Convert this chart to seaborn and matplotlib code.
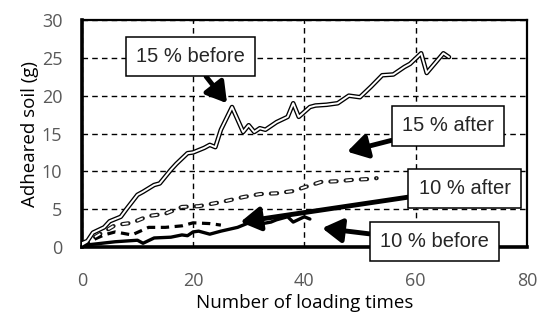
import matplotlib
matplotlib.use("Agg")
import matplotlib.pyplot as plt
import seaborn as sns

# data
x_15_before = [0, 1, 2, 4, 5, 7, 8, 10, 11, 13, 14, 16, 17, 19, 20, 22, 23, 24, 25, 27, 29, 30, 31, 32, 33,
               35, 37, 38, 39, 41, 42, 44, 46, 48, 50, 52, 54, 56, 58, 59, 61, 62, 65, 66]
y_15_before = [0.5, 0.8, 1.9, 2.6, 3.4, 4.0, 5.0, 6.9, 7.3, 8.2, 8.4, 10.2, 11.0, 12.4, 12.5, 13.1, 13.5, 13.2,
               15.5, 18.5, 15.2, 16.1, 15.2, 15.7, 15.5, 16.5, 17.2, 19.0, 17.2, 18.5, 18.7, 18.8, 19.0, 20.0,
               19.8, 21.2, 22.7, 22.8, 23.8, 24.2, 25.6, 23.0, 25.6, 25.1]

x_15_after = [0, 3, 6, 9, 12, 15, 18, 21, 24, 26, 29, 32, 35, 38, 40, 43, 46, 49, 52, 53]
y_15_after = [0.3, 1.6, 2.9, 3.2, 4.1, 4.4, 5.3, 5.4, 5.8, 6.1, 6.6, 7.0, 7.1, 7.4, 7.9, 8.6, 8.7, 8.9, 9.0, 9.1]

x_10_after = [0, 4, 6, 9, 12, 15, 18, 20, 23, 25]
y_10_after = [0.3, 1.6, 2.0, 1.6, 2.6, 2.6, 2.8, 3.2, 3.1, 2.9]

x_10_before = [0, 6, 10, 11, 13, 16, 18, 19, 20, 21, 23, 25, 28, 30, 31, 34, 35, 37, 38, 40, 41]
y_10_before = [0.2, 0.7, 0.9, 0.5, 1.2, 1.3, 1.6, 1.5, 2.0, 2.1, 1.7, 2.1, 2.6, 3.2, 2.9, 3.3, 3.6, 4.0,
               3.3, 4.0, 3.7]

labels = ["15 % before", "15 % after", "10 % after", "10 % before"]
label_pos = [(19.5, 25.2), (65.8, 16.0), (68.8, 7.7), (63.4, 0.7)]
arrow_tips = [(26.1, 19.0), (47.7, 12.6), (28.5, 3.3), (43.2, 2.5)]

sns.set_style("white")
plt.rcParams['font.family'] = ['Open Sans', 'DejaVu Sans']
plt.rcParams['lines.scale_dashes'] = False

fig, ax = plt.subplots(figsize=(5.42, 3.2), dpi=100)
fig.subplots_adjust(left=0.151, right=0.972, top=0.9375, bottom=0.228)

# 15 % before: double (hollow) line
sns.lineplot(x=x_15_before, y=y_15_before, ax=ax, color="black", lw=3.3, zorder=3)
sns.lineplot(x=x_15_before, y=y_15_before, ax=ax, color="white", lw=1.4, zorder=4)

# 15 % after: hollow dashes
sns.lineplot(x=x_15_after, y=y_15_after, ax=ax, color="#1a1a1a", lw=3.0, zorder=3)
ax.lines[-1].set_dashes([4.5, 6.5])
ax.lines[-1].set_dash_capstyle("round")
sns.lineplot(x=x_15_after, y=y_15_after, ax=ax, color="white", lw=1.3, zorder=4)
ax.lines[-1].set_dashes([4.5, 6.5])
ax.lines[-1].set_dash_capstyle("butt")

# 10 % after: black dashes
sns.lineplot(x=x_10_after, y=y_10_after, ax=ax, color="black", lw=2.3, zorder=3)
ax.lines[-1].set_dashes([6.0, 4.0])

# 10 % before: thick solid
sns.lineplot(x=x_10_before, y=y_10_before, ax=ax, color="black", lw=2.4, zorder=3)

ax.set_xlim(0, 80)
ax.set_ylim(0, 30)
ax.set_xticks([0, 20, 40, 60, 80])
ax.set_yticks([0, 5, 10, 15, 20, 25, 30])
ax.tick_params(axis="y", labelsize=13, colors="#595959", length=0, pad=14)
ax.tick_params(axis="x", labelsize=13, colors="#595959", length=0, pad=18)
ax.set_xlabel("Number of loading times", fontsize=13.5, color="black", labelpad=3)
ax.set_ylabel("Adheared soil (g)", fontsize=13.5, color="black", labelpad=2)

ax.grid(True, color="black", linestyle=(0, (4, 3)), lw=1.0)
ax.set_axisbelow(True)
for side, w in [("left", 2.6), ("bottom", 2.6), ("top", 1.6), ("right", 1.6)]:
    ax.spines[side].set_visible(True)
    ax.spines[side].set_color("black")
    ax.spines[side].set_linewidth(w)

for text, pos, tip in zip(labels, label_pos, arrow_tips):
    ax.annotate(text, xy=tip, xytext=pos, ha="center", va="center", fontsize=14.5,
                family=["Liberation Sans", "DejaVu Sans"], zorder=6, annotation_clip=False,
                bbox=dict(boxstyle="square,pad=0.5", fc="white", ec="black", lw=1.1),
                arrowprops=dict(arrowstyle="-|>,head_length=1.0,head_width=0.6", lw=3.5,
                                color="black", shrinkA=0, shrinkB=0, mutation_scale=12))

fig.savefig("out.png", dpi=100)
